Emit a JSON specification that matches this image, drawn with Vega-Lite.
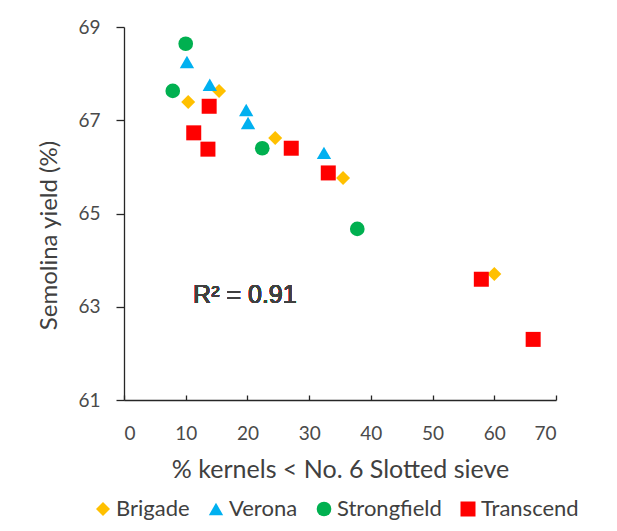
{
  "$schema": "https://vega.github.io/schema/vega-lite/v6.json",
  "width": 432,
  "height": 373,
  "autosize": {"type": "none"},
  "padding": {"left": 124, "top": 27, "right": 61, "bottom": 131},
  "background": "white",
  "config": {
    "view": {"stroke": null},
    "axis": {"grid": false, "labelFont": "Lato", "titleFont": "Lato", "labelColor": "#4a4a4a", "titleColor": "#404040", "domainColor": "#262626", "tickColor": "#262626", "titleFontWeight": "normal", "domainWidth": 1.3, "tickWidth": 1.3},
    "legend": {"labelFont": "Lato"}
  },
  "data": {
    "values": [
      {"variety": "Brigade", "kernels": 10.4, "yield": 67.39},
      {"variety": "Brigade", "kernels": 15.4, "yield": 67.63},
      {"variety": "Brigade", "kernels": 24.5, "yield": 66.62},
      {"variety": "Brigade", "kernels": 35.5, "yield": 65.76},
      {"variety": "Brigade", "kernels": 60.0, "yield": 63.70},
      {"variety": "Verona", "kernels": 10.2, "yield": 68.25},
      {"variety": "Verona", "kernels": 13.9, "yield": 67.76},
      {"variety": "Verona", "kernels": 19.8, "yield": 67.22},
      {"variety": "Verona", "kernels": 20.1, "yield": 66.94},
      {"variety": "Verona", "kernels": 32.4, "yield": 66.30},
      {"variety": "Strongfield", "kernels": 10.0, "yield": 68.64},
      {"variety": "Strongfield", "kernels": 7.9, "yield": 67.63},
      {"variety": "Strongfield", "kernels": 22.4, "yield": 66.40},
      {"variety": "Strongfield", "kernels": 37.8, "yield": 64.67},
      {"variety": "Transcend", "kernels": 13.8, "yield": 67.30},
      {"variety": "Transcend", "kernels": 11.3, "yield": 66.73},
      {"variety": "Transcend", "kernels": 13.6, "yield": 66.38},
      {"variety": "Transcend", "kernels": 27.1, "yield": 66.40},
      {"variety": "Transcend", "kernels": 33.1, "yield": 65.87},
      {"variety": "Transcend", "kernels": 57.9, "yield": 63.59},
      {"variety": "Transcend", "kernels": 66.3, "yield": 62.30}
    ]
  },
  "layer": [
    {
      "mark": {"type": "point", "filled": true, "opacity": 1, "strokeWidth": 0},
      "encoding": {
        "x": {"field": "kernels", "type": "quantitative", "scale": {"domain": [0, 70], "nice": false, "zero": false},
          "axis": {"title": "% kernels < No. 6 Slotted sieve", "values": [0, 10, 20, 30, 40, 50, 60, 70], "tickSize": -5, "labelPadding": 29, "labelFontSize": 19, "titleFontSize": 25, "titlePadding": 14}},
        "y": {"field": "yield", "type": "quantitative", "scale": {"domain": [61, 69], "nice": false, "zero": false},
          "axis": {"title": "Semolina yield (%)", "values": [61, 63, 65, 67, 69], "tickSize": 8, "labelPadding": 16, "labelFontSize": 19, "titleFontSize": 24, "titlePadding": 16, "titleY": 208}},
        "color": {"field": "variety", "type": "nominal",
          "scale": {"domain": ["Brigade", "Verona", "Strongfield", "Transcend"], "range": ["#FFC000", "#00B0F0", "#00B050", "#FF0000"]},
          "legend": {"title": null, "orient": "none", "direction": "horizontal", "legendX": -32, "legendY": 471, "symbolSize": 150, "labelFontSize": 22, "labelColor": "#404040", "labelOffset": 2, "columnPadding": 15, "padding": 0, "symbolStrokeWidth": 0}},
        "shape": {"field": "variety", "type": "nominal",
          "scale": {"domain": ["Brigade", "Verona", "Strongfield", "Transcend"], "range": ["diamond", "triangle-up", "circle", "square"]}},
        "size": {"field": "variety", "type": "nominal",
          "scale": {"domain": ["Brigade", "Verona", "Strongfield", "Transcend"], "range": [196, 225, 361, 245]}, "legend": null}
      }
    },
    {
      "mark": {"type": "text", "font": "Liberation Sans", "fontSize": 25, "color": "#404040", "align": "left", "baseline": "middle"},
      "encoding": {
        "x": {"datum": 11.2},
        "y": {"datum": 63.25},
        "text": {"value": "R² = 0.91"}
      }
    }
  ]
}
